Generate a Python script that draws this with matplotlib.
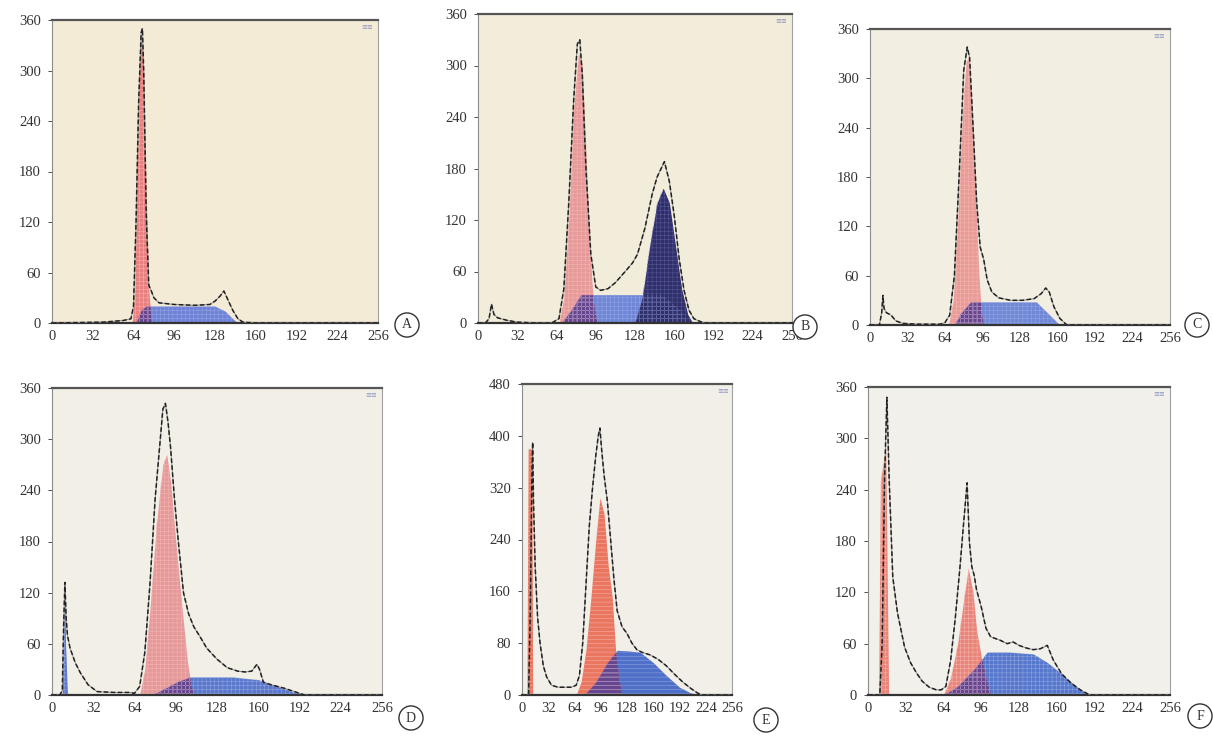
import matplotlib
matplotlib.use("Agg")
import matplotlib.pyplot as plt
import numpy as np

plt.rcParams['font.family'] = ['Liberation Serif', 'DejaVu Serif']
plt.rcParams['hatch.linewidth'] = 0.35

# ---- data (grey level vs. count) ----
x_ticks = [0, 32, 64, 96, 128, 160, 192, 224, 256]

# Panel A
a_x = [0, 40, 56, 62, 64, 66, 68, 70, 71, 72, 74, 76, 78, 80, 84, 96, 112, 124, 128, 132, 135, 138, 142, 146, 150, 160, 256]
a_hist = [0, 1, 3, 5, 20, 120, 260, 345, 350, 300, 130, 45, 38, 30, 24, 22, 21, 22, 26, 32, 38, 28, 15, 5, 1, 0, 0]
a_red_x = [63, 65, 67, 69, 70, 72, 74, 76, 78]
a_red = [0, 40, 180, 320, 344, 300, 150, 40, 0]
a_blue_x = [66, 70, 74, 128, 136, 142, 146]
a_blue = [0, 15, 20, 20, 14, 5, 0]

# Panel B
b_x = [0, 6, 9, 11, 13, 16, 24, 32, 48, 60, 66, 70, 74, 78, 81, 83, 85, 88, 92, 96, 100, 106, 112, 120, 126,
       130, 136, 142, 146, 150, 152, 156, 160, 164, 168, 172, 176, 184, 256]
b_hist = [0, 0, 5, 22, 10, 6, 3, 1, 0, 0, 5, 40, 140, 260, 325, 330, 290, 180, 80, 42, 38, 40, 47, 60, 70,
          80, 110, 150, 170, 182, 188, 165, 125, 75, 38, 15, 5, 0, 0]
b_red_x = [66, 70, 74, 78, 82, 85, 88, 91, 94, 97]
b_red = [0, 30, 120, 250, 315, 300, 200, 90, 25, 0]
b_blue_x = [68, 76, 84, 128, 150, 165, 172]
b_blue = [0, 15, 33, 33, 33, 15, 0]
b_navy_x = [128, 134, 140, 146, 151, 156, 161, 166, 171, 175]
b_navy = [0, 30, 90, 140, 157, 140, 90, 40, 10, 0]

# Panel C
c_x = [0, 8, 10, 11, 12, 14, 18, 22, 28, 40, 60, 64, 68, 72, 76, 80, 83, 85, 88, 91, 94, 97, 100, 104, 110,
       120, 130, 140, 146, 150, 153, 157, 162, 168, 256]
c_hist = [0, 0, 15, 36, 20, 15, 12, 5, 2, 1, 1, 3, 12, 60, 180, 310, 338, 325, 240, 150, 95, 80, 55, 40, 33,
          30, 30, 32, 38, 45, 40, 22, 8, 0, 0]
c_red_x = [67, 71, 75, 79, 82, 84, 87, 90, 93, 95, 97]
c_red = [0, 30, 130, 260, 320, 325, 270, 160, 60, 15, 0]
c_blue_x = [72, 78, 86, 142, 152, 162]
c_blue = [0, 15, 28, 28, 14, 0]

# Panel D
d_x = [0, 6, 8, 9, 10, 11, 12, 14, 18, 22, 28, 35, 48, 60, 64, 68, 72, 76, 80, 84, 86, 88, 90, 92, 95, 98,
       102, 106, 110, 115, 120, 128, 136, 144, 150, 155, 159, 161, 164, 170, 180, 190, 196, 256]
d_hist = [0, 0, 5, 80, 132, 90, 70, 55, 38, 26, 12, 4, 3, 3, 2, 10, 50, 130, 230, 300, 335, 342, 320, 290, 230, 180,
          120, 95, 80, 68, 55, 42, 32, 28, 27, 28, 36, 30, 15, 12, 8, 3, 0, 0]
d_red_x = [68, 72, 76, 81, 86, 89, 92, 96, 101, 105, 108, 110]
d_red = [0, 30, 100, 200, 270, 282, 250, 180, 100, 40, 10, 0]
d_blue_x = [8, 9.5, 10, 10.5, 12, 78, 88, 98, 107, 140, 160, 175, 188, 196]
d_blue = [0, 100, 130, 60, 0, 0, 8, 16, 21, 21, 18, 10, 3, 0]

# Panel E
e_x = [0, 8, 10, 12, 13, 14, 16, 19, 22, 26, 30, 36, 44, 52, 60, 66, 70, 74, 78, 82, 86, 90, 93, 95, 97, 100,
       104, 108, 112, 116, 122, 128, 134, 140, 146, 156, 166, 176, 186, 196, 206, 214, 220, 256]
e_hist = [0, 0, 120, 330, 390, 300, 200, 120, 80, 45, 28, 15, 12, 12, 12, 15, 30, 80, 170, 260, 320, 370, 400, 412, 380, 340,
          300, 240, 180, 130, 105, 95, 80, 70, 66, 62, 55, 45, 32, 20, 10, 3, 0, 0]
e_red_x = [6, 7.5, 12, 13, 66, 72, 78, 84, 90, 95, 100, 105, 110, 114, 118, 122]
e_red = [0, 380, 380, 0, 0, 20, 70, 150, 240, 304, 280, 200, 150, 70, 25, 0]
e_blue_x = [76, 90, 104, 116, 130, 144, 160, 176, 192, 206, 216]
e_blue = [0, 20, 50, 69, 68, 66, 50, 30, 12, 3, 0]

# Panel F
f_x = [0, 10, 12, 14, 16, 18, 21, 25, 31, 36, 41, 46, 52, 58, 62, 66, 70, 74, 78, 81, 84, 86, 88, 90, 92, 96,
       100, 104, 112, 118, 123, 128, 134, 140, 146, 152, 157, 164, 172, 180, 188, 256]
f_hist = [0, 0, 60, 250, 348, 250, 138, 96, 56, 38, 26, 16, 9, 6, 6, 10, 40, 90, 150, 200, 248, 178, 150, 140, 123, 103,
          78, 68, 64, 60, 62, 58, 55, 53, 54, 58, 41, 25, 14, 6, 0, 0]
f_red_x = [9, 10.5, 15, 17.5, 64, 70, 76, 81, 85, 89, 92, 96, 100, 104]
f_red = [0, 250, 290, 0, 0, 20, 60, 110, 148, 120, 76, 45, 20, 0]
f_blue_x = [64, 76, 90, 101, 120, 140, 152, 163, 180, 188]
f_blue = [0, 10, 30, 50, 50, 48, 38, 26, 6, 0]

W, H = 1213, 742
fig = plt.figure(figsize=(W / 100, H / 100), dpi=100)
fig.patch.set_facecolor('white')


def px_axes(left, right, top, bottom):
    return fig.add_axes([left / W, (H - bottom) / H, (right - left) / W, (bottom - top) / H])


def fill_hatched(ax, x, y, face, hatch_col, hatch):
    ax.fill_between(x, y, 0, color=face, lw=0, zorder=2)
    ax.fill_between(x, y, 0, facecolor='none', edgecolor=hatch_col, hatch=hatch, lw=0, zorder=2.1)


def draw_panel(ax, hx, hy, rx, ry, bx, by, ymax, ystep, bg, red_col, blue_col, hatch='++++', navy=None):
    ax.set_facecolor(bg)
    g = np.linspace(0, 256, 2049)
    r = np.interp(g, rx, ry)
    b = np.interp(g, bx, by)
    fill_hatched(ax, g, b, blue_col, '#93a6e2', hatch)
    fill_hatched(ax, g, r, red_col, '#f4b6b0', hatch)
    fill_hatched(ax, g, np.minimum(r, b), '#674690', '#8a6cb0', hatch)
    if navy is not None:
        n = np.interp(g, navy[0], navy[1])
        fill_hatched(ax, g, n, '#2f2f6c', '#5a5a96', hatch)
    ax.plot(hx, hy, color='#8a8a8a', lw=0.7, zorder=3)
    ax.plot(hx, hy, color='#222222', lw=1.1, ls=(0, (3, 1.6)), zorder=4)
    ax.set_xlim(0, 256)
    ax.set_ylim(0, ymax)
    ax.set_xticks(x_ticks)
    ax.set_yticks(np.arange(0, ymax + 1, ystep))
    ax.tick_params(axis='x', length=0, pad=5, labelsize=10.5, colors='#333333')
    ax.tick_params(axis='y', length=3, width=0.6, pad=5, labelsize=10.5, colors='#333333')
    ax.spines['top'].set_color('#555555')
    ax.spines['top'].set_linewidth(1.6)
    ax.spines['bottom'].set_color('#333333')
    ax.spines['bottom'].set_linewidth(1.6)
    ax.spines['left'].set_color('#8c8c8c')
    ax.spines['left'].set_linewidth(0.8)
    ax.spines['right'].set_color('#a0a0a0')
    ax.spines['right'].set_linewidth(0.8)
    ax.text(0.985, 0.985, '≡≡', transform=ax.transAxes, ha='right', va='top',
            fontsize=5, color='#8890c0', family='DejaVu Sans')


ax_a = px_axes(52, 378, 20, 323)
draw_panel(ax_a, a_x, a_hist, a_red_x, a_red, a_blue_x, a_blue, 360, 60, '#f3ebd6', '#ea7f80', '#6f82d8')
ax_b = px_axes(478, 792, 14, 323)
draw_panel(ax_b, b_x, b_hist, b_red_x, b_red, b_blue_x, b_blue, 360, 60, '#f2ecda', '#e79a9a', '#6f86d6',
           navy=(b_navy_x, b_navy))
ax_c = px_axes(870, 1170, 29, 325)
draw_panel(ax_c, c_x, c_hist, c_red_x, c_red, c_blue_x, c_blue, 360, 60, '#f2eee2', '#e99b98', '#7088d6')
ax_d = px_axes(52, 382, 388, 695)
draw_panel(ax_d, d_x, d_hist, d_red_x, d_red, d_blue_x, d_blue, 360, 60, '#f1efe6', '#e6999a', '#5a78cc')
ax_e = px_axes(522, 732, 384, 695)
draw_panel(ax_e, e_x, e_hist, e_red_x, e_red, e_blue_x, e_blue, 480, 80, '#f1efe8', '#ea7660', '#4f70c8',
           hatch='----')
ax_f = px_axes(868, 1170, 387, 695)
draw_panel(ax_f, f_x, f_hist, f_red_x, f_red, f_blue_x, f_blue, 360, 60, '#f1f0ea', '#ea8478', '#5578cc')

# circled panel letters
for letter, cx, cy in [('A', 407, 325), ('B', 805, 327), ('C', 1197, 325),
                       ('D', 411, 718), ('E', 766, 720), ('F', 1200, 716)]:
    fig.text(cx / W, (H - cy) / H, letter, ha='center', va='center', fontsize=10, color='#333333',
             bbox=dict(boxstyle='circle,pad=0.4', fc='white', ec='#333333', lw=1.0))

fig.savefig('out.png', dpi=100)
